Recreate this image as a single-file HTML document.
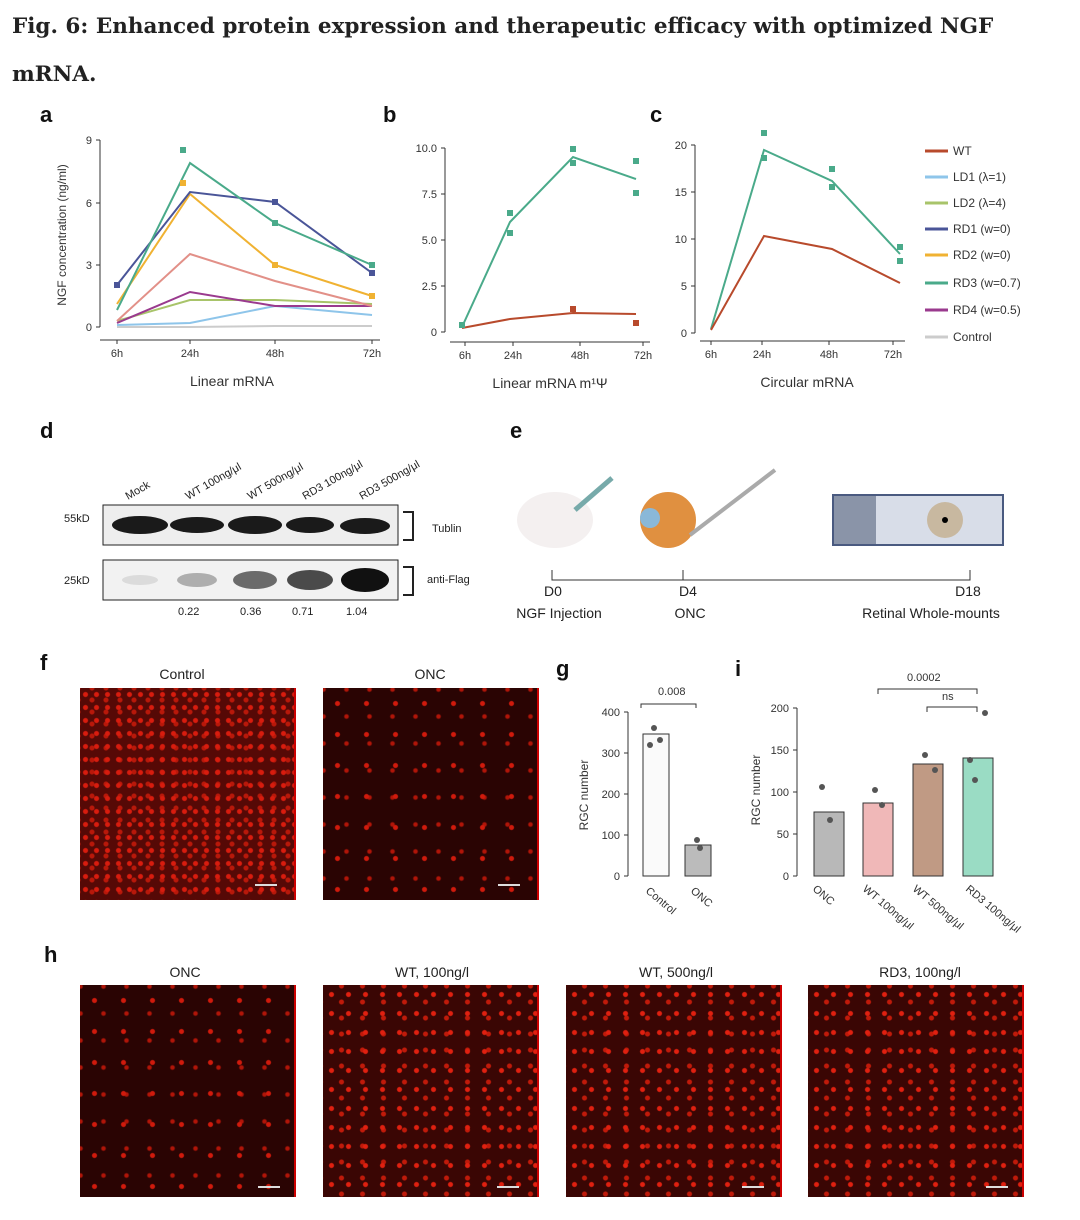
<!DOCTYPE html>
<html><head><meta charset="utf-8"><style>
body{margin:0;width:1080px;height:1220px;background:#fff;font-family:"Liberation Sans",sans-serif;position:relative;overflow:hidden}
.t{position:absolute;left:12px;top:3px;font-family:"DejaVu Serif",serif;font-weight:bold;font-size:21.5px;line-height:48px;color:#222;width:1070px;white-space:nowrap}
.img{position:absolute;border-right:2px solid #c00}
.ctrl{background:radial-gradient(circle,#d81c0e 0 2px,transparent 3px) 0 0/11px 13px,radial-gradient(circle,#b8180a 0 2px,transparent 3px) 5px 6px/14px 12px,#560906}
.onc{background:radial-gradient(circle,#d01a0c 0 2px,transparent 3px) 0 0/29px 31px,radial-gradient(circle,#b01508 0 1.5px,transparent 3px) 12px 15px/23px 27px,#2a0403}
.mid{background:radial-gradient(circle,#e02010 0 2px,transparent 3px) 0 0/17px 19px,radial-gradient(circle,#c01a0a 0 2px,transparent 3px) 8px 9px/21px 16px,#3a0604}
.bar{position:absolute;height:2px;width:22px;background:#ddd}
</style></head><body>
<div class="t">Fig. 6: Enhanced protein expression and therapeutic efficacy with optimized NGF<br>mRNA.</div>
<svg width="1080" height="1220" style="position:absolute;left:0;top:0" font-family="Liberation Sans,sans-serif">
<g font-weight="bold" font-size="22" fill="#111">
<text x="40" y="122">a</text><text x="383" y="122">b</text><text x="650" y="122">c</text>
<text x="40" y="438">d</text><text x="510" y="438">e</text><text x="40" y="670">f</text>
<text x="556" y="676">g</text><text x="735" y="676">i</text><text x="44" y="962">h</text></g>
<!-- panel a -->
<g stroke="#333" fill="none" stroke-width="1"><path d="M100 140V327M96 140h4M96 203h4M96 265h4M96 327h4M100 340H380M117 340v4M190 340v4M275 340v4M372 340v4"/></g>
<g font-size="11" fill="#333" text-anchor="end"><text x="92" y="144">9</text><text x="92" y="207">6</text><text x="92" y="269">3</text><text x="92" y="331">0</text></g>
<g font-size="11" fill="#333" text-anchor="middle"><text x="117" y="357">6h</text><text x="190" y="357">24h</text><text x="275" y="357">48h</text><text x="372" y="357">72h</text>
<text x="232" y="386" font-size="14">Linear mRNA</text></g>
<text transform="translate(66 235) rotate(-90)" font-size="12" fill="#333" text-anchor="middle">NGF concentration (ng/ml)</text>
<g fill="none" stroke-width="2">
<polyline stroke="#ccc" points="117,327 190,327 275,326 372,326"/>
<polyline stroke="#8ec5ea" points="117,325 190,323 275,306 372,315"/>
<polyline stroke="#a8c46a" points="117,321 190,300 275,300 372,304"/>
<polyline stroke="#9a3a8e" points="117,323 190,292 275,306 372,306"/>
<polyline stroke="#e29088" points="117,321 190,254 275,281 372,306"/>
<polyline stroke="#f0b232" points="117,304 190,194 275,265 372,296"/>
<polyline stroke="#4a5598" points="117,285 190,192 275,202 372,273"/>
<polyline stroke="#4aaa8a" points="117,310 190,163 275,223 372,265"/>
</g>
<g fill="#4aaa8a"><rect x="180" y="147" width="6" height="6"/><rect x="272" y="220" width="6" height="6"/><rect x="369" y="262" width="6" height="6"/></g>
<g fill="#4a5598"><rect x="272" y="199" width="6" height="6"/><rect x="369" y="270" width="6" height="6"/><rect x="114" y="282" width="6" height="6"/></g>
<g fill="#f0b232"><rect x="180" y="180" width="6" height="6"/><rect x="272" y="262" width="6" height="6"/><rect x="369" y="293" width="6" height="6"/></g>
<!-- panel b -->
<g stroke="#333" fill="none"><path d="M445 148V332M441 148h4M441 194h4M441 240h4M441 286h4M441 332h4M450 342H650M465 342v4M513 342v4M580 342v4M643 342v4"/></g>
<g font-size="11" fill="#333" text-anchor="end"><text x="437" y="152">10.0</text><text x="437" y="198">7.5</text><text x="437" y="244">5.0</text><text x="437" y="290">2.5</text><text x="437" y="336">0</text></g>
<g font-size="11" fill="#333" text-anchor="middle"><text x="465" y="359">6h</text><text x="513" y="359">24h</text><text x="580" y="359">48h</text><text x="643" y="359">72h</text>
<text x="550" y="388" font-size="14">Linear mRNA m¹Ψ</text></g>
<polyline fill="none" stroke="#4aaa8a" stroke-width="2" points="462,327 510,222 573,157 636,179"/>
<polyline fill="none" stroke="#b84a2c" stroke-width="2" points="462,328 510,319 573,313 636,314"/>
<g fill="#4aaa8a"><rect x="507" y="210" width="6" height="6"/><rect x="507" y="230" width="6" height="6"/><rect x="570" y="146" width="6" height="6"/><rect x="570" y="160" width="6" height="6"/><rect x="633" y="158" width="6" height="6"/><rect x="633" y="190" width="6" height="6"/><rect x="459" y="322" width="6" height="6"/></g>
<g fill="#b84a2c"><rect x="570" y="306" width="6" height="6"/><rect x="633" y="320" width="6" height="6"/></g>
<!-- panel c -->
<g stroke="#333" fill="none"><path d="M695 145V333M691 145h4M691 192h4M691 239h4M691 286h4M691 333h4M700 341H905M711 341v4M762 341v4M829 341v4M893 341v4"/></g>
<g font-size="11" fill="#333" text-anchor="end"><text x="687" y="149">20</text><text x="687" y="196">15</text><text x="687" y="243">10</text><text x="687" y="290">5</text><text x="687" y="337">0</text></g>
<g font-size="11" fill="#333" text-anchor="middle"><text x="711" y="358">6h</text><text x="762" y="358">24h</text><text x="829" y="358">48h</text><text x="893" y="358">72h</text>
<text x="807" y="387" font-size="14">Circular mRNA</text></g>
<polyline fill="none" stroke="#4aaa8a" stroke-width="2" points="711,329 764,150 832,181 900,254"/>
<polyline fill="none" stroke="#b84a2c" stroke-width="2" points="711,330 764,236 832,249 900,283"/>
<g fill="#4aaa8a"><rect x="761" y="130" width="6" height="6"/><rect x="761" y="155" width="6" height="6"/><rect x="829" y="166" width="6" height="6"/><rect x="829" y="184" width="6" height="6"/><rect x="897" y="244" width="6" height="6"/><rect x="897" y="258" width="6" height="6"/></g>
<!-- legend -->
<g font-size="12" fill="#333" stroke-width="3">
<line x1="925" y1="151" x2="948" y2="151" stroke="#b84a2c"/><text x="953" y="155">WT</text>
<line x1="925" y1="177" x2="948" y2="177" stroke="#8ec5ea"/><text x="953" y="181">LD1 (λ=1)</text>
<line x1="925" y1="203" x2="948" y2="203" stroke="#a8c46a"/><text x="953" y="207">LD2 (λ=4)</text>
<line x1="925" y1="229" x2="948" y2="229" stroke="#4a5598"/><text x="953" y="233">RD1 (w=0)</text>
<line x1="925" y1="255" x2="948" y2="255" stroke="#f0b232"/><text x="953" y="259">RD2 (w=0)</text>
<line x1="925" y1="283" x2="948" y2="283" stroke="#4aaa8a"/><text x="953" y="287">RD3 (w=0.7)</text>
<line x1="925" y1="310" x2="948" y2="310" stroke="#9a3a8e"/><text x="953" y="314">RD4 (w=0.5)</text>
<line x1="925" y1="337" x2="948" y2="337" stroke="#ccc"/><text x="953" y="341">Control</text></g>
<!-- panel d -->
<g font-size="11" fill="#222">
<text transform="translate(128 500) rotate(-30)">Mock</text>
<text transform="translate(188 500) rotate(-30)">WT 100ng/μl</text>
<text transform="translate(250 500) rotate(-30)">WT 500ng/μl</text>
<text transform="translate(305 500) rotate(-30)">RD3 100ng/μl</text>
<text transform="translate(362 500) rotate(-30)">RD3 500ng/μl</text>
<text x="64" y="522">55kD</text><text x="64" y="584">25kD</text>
<text x="432" y="532">Tublin</text><text x="427" y="583">anti-Flag</text>
<text x="178" y="615">0.22</text><text x="240" y="615">0.36</text><text x="292" y="615">0.71</text><text x="346" y="615">1.04</text></g>
<rect x="103" y="505" width="295" height="40" fill="#eee" stroke="#222"/>
<rect x="103" y="560" width="295" height="40" fill="#f2f2f2" stroke="#222"/>
<g fill="#1a1a1a"><ellipse cx="140" cy="525" rx="28" ry="9"/><ellipse cx="197" cy="525" rx="27" ry="8"/><ellipse cx="255" cy="525" rx="27" ry="9"/><ellipse cx="310" cy="525" rx="24" ry="8"/><ellipse cx="365" cy="526" rx="25" ry="8"/></g>
<g fill="#111"><ellipse cx="140" cy="580" rx="18" ry="5" opacity=".1"/><ellipse cx="197" cy="580" rx="20" ry="7" opacity=".3"/><ellipse cx="255" cy="580" rx="22" ry="9" opacity=".6"/><ellipse cx="310" cy="580" rx="23" ry="10" opacity=".75"/><ellipse cx="365" cy="580" rx="24" ry="12"/></g>
<path d="M403 512h10v28h-10M403 567h10v28h-10" fill="none" stroke="#222" stroke-width="2"/>
<!-- panel e -->
<path d="M552 570V580H970V570M683 570v10" fill="none" stroke="#333"/>
<g font-size="14" fill="#222" text-anchor="middle"><text x="553" y="596">D0</text><text x="559" y="618">NGF Injection</text><text x="688" y="596">D4</text><text x="690" y="618">ONC</text><text x="968" y="596">D18</text><text x="931" y="618">Retinal Whole-mounts</text></g>
<ellipse cx="555" cy="520" rx="38" ry="28" fill="#f4f0f0"/><line x1="575" y1="510" x2="612" y2="478" stroke="#7aa" stroke-width="5"/>
<circle cx="668" cy="520" r="28" fill="#e09040"/><circle cx="650" cy="518" r="10" fill="#8ab8d8"/><line x1="690" y1="535" x2="775" y2="470" stroke="#aaa" stroke-width="4"/>
<rect x="833" y="495" width="170" height="50" fill="#d8dde8" stroke="#4a5a80" stroke-width="2"/><rect x="834" y="496" width="42" height="48" fill="#8a94a8"/>
<circle cx="945" cy="520" r="18" fill="#c8b8a0"/><circle cx="945" cy="520" r="3" fill="#000"/>
<!-- panel g -->
<g font-size="11" fill="#333"><text x="658" y="695">0.008</text>
<path d="M641 708v-4h55v4" fill="none" stroke="#333"/>
<path d="M628 712V876M624 712h4M624 753h4M624 794h4M624 835h4M624 876h4" fill="none" stroke="#333"/>
<g text-anchor="end"><text x="620" y="716">400</text><text x="620" y="757">300</text><text x="620" y="798">200</text><text x="620" y="839">100</text><text x="620" y="880">0</text></g>
<text transform="translate(588 795) rotate(-90)" text-anchor="middle" font-size="12">RGC number</text>
<rect x="643" y="734" width="26" height="142" fill="#fafafa" stroke="#333"/><rect x="685" y="845" width="26" height="31" fill="#bbb" stroke="#333"/>
<text transform="translate(645 892) rotate(40)">Control</text><text transform="translate(690 892) rotate(40)">ONC</text>
<g fill="#555"><circle cx="654" cy="728" r="3"/><circle cx="660" cy="740" r="3"/><circle cx="650" cy="745" r="3"/><circle cx="697" cy="840" r="3"/><circle cx="700" cy="848" r="3"/></g></g>
<!-- panel i -->
<g font-size="11" fill="#333"><text x="907" y="681">0.0002</text><text x="942" y="700">ns</text>
<path d="M878 694v-5h99v5M927 712v-5h50v5" fill="none" stroke="#333"/>
<path d="M797 708V876M793 708h4M793 750h4M793 792h4M793 834h4M793 876h4" fill="none" stroke="#333"/>
<g text-anchor="end"><text x="789" y="712">200</text><text x="789" y="754">150</text><text x="789" y="796">100</text><text x="789" y="838">50</text><text x="789" y="880">0</text></g>
<text transform="translate(760 790) rotate(-90)" text-anchor="middle" font-size="12">RGC number</text>
<rect x="814" y="812" width="30" height="64" fill="#b8b8b8" stroke="#333"/>
<rect x="863" y="803" width="30" height="73" fill="#f0b8b8" stroke="#333"/>
<rect x="913" y="764" width="30" height="112" fill="#c09a84" stroke="#333"/>
<rect x="963" y="758" width="30" height="118" fill="#9adcc4" stroke="#333"/>
<text transform="translate(812 890) rotate(40)">ONC</text><text transform="translate(862 890) rotate(40)">WT 100ng/μl</text><text transform="translate(912 890) rotate(40)">WT 500ng/μl</text><text transform="translate(965 890) rotate(40)">RD3 100ng/μl</text>
<g fill="#555"><circle cx="822" cy="787" r="3"/><circle cx="830" cy="820" r="3"/><circle cx="875" cy="790" r="3"/><circle cx="882" cy="805" r="3"/><circle cx="925" cy="755" r="3"/><circle cx="935" cy="770" r="3"/><circle cx="985" cy="713" r="3"/><circle cx="975" cy="780" r="3"/><circle cx="970" cy="760" r="3"/></g></g>
<!-- labels f,h -->
<g font-size="14" fill="#222" text-anchor="middle"><text x="182" y="679">Control</text><text x="430" y="679">ONC</text>
<text x="185" y="977">ONC</text><text x="432" y="977">WT, 100ng/l</text><text x="676" y="977">WT, 500ng/l</text><text x="920" y="977">RD3, 100ng/l</text></g>
</svg>
<div class="img ctrl" style="left:80px;top:688px;width:214px;height:212px"></div>
<div class="img onc" style="left:323px;top:688px;width:214px;height:212px"></div>
<div class="img onc" style="left:80px;top:985px;width:214px;height:212px"></div>
<div class="img mid" style="left:323px;top:985px;width:214px;height:212px"></div>
<div class="img mid" style="left:566px;top:985px;width:214px;height:212px"></div>
<div class="img mid" style="left:808px;top:985px;width:214px;height:212px"></div>
<div class="bar" style="left:255px;top:884px"></div><div class="bar" style="left:498px;top:884px"></div>
<div class="bar" style="left:258px;top:1186px"></div><div class="bar" style="left:497px;top:1186px"></div><div class="bar" style="left:742px;top:1186px"></div><div class="bar" style="left:986px;top:1186px"></div>
</body></html>
